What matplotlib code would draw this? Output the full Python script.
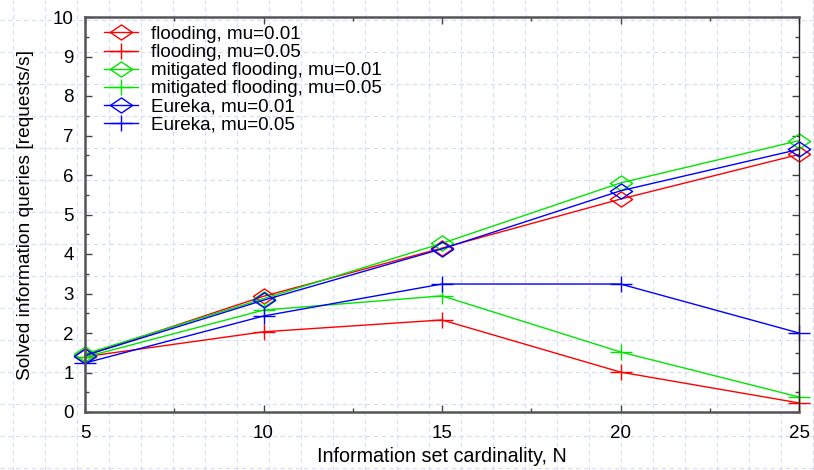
import matplotlib
matplotlib.use("Agg")
import matplotlib.pyplot as plt
from matplotlib.ticker import MultipleLocator
from matplotlib.path import Path

plt.rcParams['font.family'] = ['Liberation Sans', 'DejaVu Sans']

N = [5, 10, 15, 20, 25]
flood_001 = [1.43, 2.93, 4.15, 5.39, 6.52]
flood_005 = [1.40, 2.03, 2.33, 1.01, 0.23]
mitig_001 = [1.47, 2.87, 4.27, 5.80, 6.87]
mitig_005 = [1.39, 2.58, 2.94, 1.52, 0.38]
eureka_001 = [1.43, 2.83, 4.13, 5.60, 6.65]
eureka_005 = [1.24, 2.43, 3.24, 3.24, 2.00]

series = [
    ("flooding, mu=0.01", flood_001, "#ff0000", "D"),
    ("flooding, mu=0.05", flood_005, "#ff0000", "+"),
    ("mitigated flooding, mu=0.01", mitig_001, "#00e600", "D"),
    ("mitigated flooding, mu=0.05", mitig_005, "#00e600", "+"),
    ("Eureka, mu=0.01", eureka_001, "#0000ff", "D"),
    ("Eureka, mu=0.05", eureka_005, "#0000ff", "+"),
]

# flattened diamond and wide plus, as in the reference
diamond = Path([(-1, 0), (0, 0.68), (1, 0), (0, -0.68), (-1, 0)],
               [Path.MOVETO, Path.LINETO, Path.LINETO, Path.LINETO, Path.CLOSEPOLY])
plus = Path([(-1, 0), (1, 0), (0, -0.73), (0, 0.73)],
            [Path.MOVETO, Path.LINETO, Path.MOVETO, Path.LINETO])

W, H = 814, 470
fig = plt.figure(figsize=(W / 100, H / 100), dpi=100)

# background paper grid over the whole figure
bg = fig.add_axes([0, 0, 1, 1], zorder=0)
bg.set_xlim(0, W)
bg.set_ylim(H, 0)
bg.axis("off")
gcol = "#d6dcf5"
x = 13
while x < W:
    bg.axvline(x, color=gcol, lw=0.8, ls=(0, (4, 3)))
    x += 32
y = 20
while y < H:
    bg.axhline(y, color=gcol, lw=0.8, ls=(0, (4, 3)))
    y += 32

ax = fig.add_axes([85 / W, 1 - 412 / H, (799 - 85) / W, (412 - 17) / H], zorder=1)
ax.patch.set_alpha(0)

for label, vals, col, mk in series:
    m = diamond if mk == "D" else plus
    ax.plot(N, vals, color=col, lw=1.0, marker=m, markersize=16,
            markerfacecolor="none", markeredgecolor=col, markeredgewidth=1.0,
            label=label, clip_on=False)

ax.set_xlim(5, 25)
ax.set_ylim(0, 10)
ax.xaxis.set_major_locator(MultipleLocator(5))
ax.xaxis.set_minor_locator(MultipleLocator(2.5))
ax.yaxis.set_major_locator(MultipleLocator(1))
ax.yaxis.set_minor_locator(MultipleLocator(0.5))
ax.tick_params(which="both", direction="in", top=True, right=True,
               labelsize=13.5, colors="#444444", labelcolor="black")
ax.tick_params(which="major", length=5, width=1)
ax.tick_params(which="minor", length=3, width=1)
ax.tick_params(axis="x", which="major", pad=9)
ax.tick_params(axis="y", which="major", pad=8)

for side in ["left", "bottom", "top"]:
    ax.spines[side].set_color("#555555")
    ax.spines[side].set_linewidth(1.8)
ax.spines["right"].set_color("#222222")
ax.spines["right"].set_linewidth(1.0)

ax.set_xlabel("Information set cardinality, N", fontsize=14.2, labelpad=4)
ax.set_ylabel("Solved information queries [requests/s]", fontsize=13.8, labelpad=14)

leg = ax.legend(loc="upper left", frameon=False, fontsize=13.6, handlelength=1.8,
                labelspacing=0.05, handletextpad=0.7, borderaxespad=0.0,
                bbox_to_anchor=(0.016, 0.997))

fig.savefig("out.png", dpi=100)
